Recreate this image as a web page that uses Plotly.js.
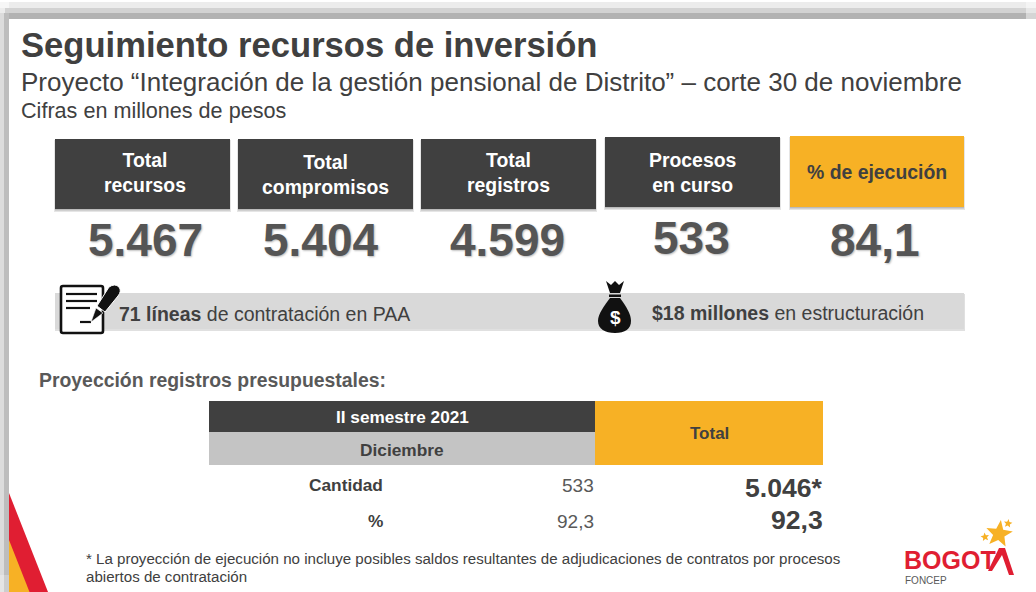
<!DOCTYPE html>
<html><head><meta charset="utf-8">
<script src="https://cdn.plot.ly/plotly-3.0.1.min.js"></script>
<style>html,body{margin:0;padding:0;background:#fff;overflow:hidden}#c{width:1036px;height:592px}</style>
</head><body><div id="c"></div>
<script>
// ---- content ----
const titleText = "Seguimiento recursos de inversión";
const subtitleText = "Proyecto “Integración de la gestión pensional de Distrito” – corte 30 de noviembre";
const unitsText = "Cifras en millones de pesos";
const kpiLabels = ["Total<br>recursos","Total<br>compromisos","Total<br>registros","Procesos<br>en curso","% de ejecución"];
const kpiValues = ["5.467","5.404","4.599","533","84,1"];
const stripTexts = ["<b>71 líneas</b> de contratación en PAA","<b>$18 millones</b> en estructuración"];
const tableHeading = "Proyección registros presupuestales:";
const tableHeaders = ["II semestre 2021","Diciembre","Total"];
const rowLabels = ["Cantidad","%"];
const decemberValues = ["533","92,3"];
const totalValues = ["5.046*","92,3"];
const footnoteLines = ["* La proyección de ejecución no incluye posibles saldos resultantes de adjudicaciones de contratos por procesos","abiertos de contratación"];

// ---- layout geometry (page pixels on a hidden 1036x592 scale) ----
const DARK="#404040", ORANGE="#f7b125", FONT="Liberation Sans, Arial, sans-serif";
const kpiBoxes=[[55,230,139,209],[238,413,139,209],[421,596,139,209],[605,780,137,207],[790,964,136,207]];
const kpiLabelX=[145,325.5,508.5,692.5,877];
const kpiLabelY=[172.5,174.5,172.5,172.5,172];
const kpiValueY=[240,240,240,238,240];
const kpiValueX=[145,321,507,691,875];
const shapes=[];
const rect=(x0,x1,y0,y1,fill,op)=>shapes.push({type:"rect",xref:"x",yref:"y",x0,x1,y0,y1,fillcolor:fill,opacity:op===undefined?1:op,line:{width:0},layer:"below"});
const path=(d,fill,lineColor,lw)=>shapes.push({type:"path",xref:"x",yref:"y",path:d,fillcolor:fill,line:{color:lineColor||fill,width:lw||0},layer:"below"});
const star=(cx,cy,R,r,rot,fill)=>{
  let d="";
  for(let k=0;k<10;k++){
    const a=(rot-90+k*36)*Math.PI/180, q=k%2?r:R;
    d+=(k?" L ":"M ")+(cx+q*Math.cos(a)).toFixed(1)+" "+(cy+q*Math.sin(a)).toFixed(1);
  }
  path(d+" Z",fill);
};

// slide frame shading
rect(0,1036,2,8,"#ececec"); rect(0,1036,8,13,"#d2d2d2"); rect(0,1036,13,19,"#b2b2b2");
rect(1026,1036,2,19,"#ffffff",0.45);
rect(0,4,8,592,"#dcdcdc"); rect(4,9,13,592,"#bdbdbd");
rect(0,9,575,592,"#ffffff",0.25);
rect(0,9,2,8,"#f6f6f6"); rect(0,5,8,13,"#ececec");

// corner wedge
path("M 9 493 L 48 592 L 9 592 Z","#e01e32");
path("M 9 540 L 29.5 592 L 9 592 Z",ORANGE);

// KPI boxes with soft shadow
kpiBoxes.forEach((b,i)=>{
  rect(b[0]-1,b[1]+1,b[2]+1,b[3]+3,"#000000",0.10);
  rect(b[0],b[1],b[2],b[3]+1.5,"#000000",0.18);
  rect(b[0],b[1],b[2],b[3],i===4?ORANGE:DARK);
});

// grey strip
rect(55,965,294,331,"#000000",0.12);
rect(55,964,293,329,"#d9d9d9");

// document icon
path("M 63 286 H 101 Q 103 286 103 288 V 331 Q 103 333 101 333 H 63 Q 61 333 61 331 V 288 Q 61 286 63 286 Z","#ffffff","#111111",2.6);
path("M 66 294 H 97","rgba(0,0,0,0)","#111111",2.2);
path("M 66 301 H 97","rgba(0,0,0,0)","#111111",2.2);
path("M 66 308 H 90","rgba(0,0,0,0)","#111111",2.2);
path("M 80 322 H 91","rgba(0,0,0,0)","#111111",2.2);
// pen
path("M 109 287 Q 115 283 119 287 Q 122 291 118 296 L 105 312 L 97 306 Z","#111111","#ffffff",1);
path("M 96 308 L 103 313 L 91 322 Z","#111111","#ffffff",0.6);

// money bag
path("M 606 281 L 611 285 L 615 281 L 619 285 L 624 281 L 620 293 L 610 293 Z","#111111");
path("M 609 294.5 H 621 V 297 H 609 Z","#111111");
path("M 610 298 H 620 C 626 306 631 314 631 321 C 631 329 625 333 615 333 C 605 333 598 329 598 321 C 598 314 604 306 610 298 Z","#111111");

// table blocks
rect(209,595,401,432,DARK); rect(209,595,432,465,"#c4c4c4"); rect(595,823,401,465,ORANGE);

// logo
star(999,534,14,6,8,ORANGE);
star(1008,523.5,4.5,2,8,ORANGE);
star(985,537,4.5,2,-8,ORANGE);
path("M 999 548 L 1005 548 L 1014 575 L 1009 575 L 1002 555 L 992 571 L 988 571 Z","#e01e32");

// ---- text ----
const ann=[];
const T=(text,x,y,size,color,anchor,bold,extra)=>ann.push(Object.assign({
  xref:"x",yref:"y",x,y,text:bold?"<b>"+text+"</b>":text,showarrow:false,xanchor:anchor||"left",yanchor:"middle",
  align:anchor||"left",borderpad:0,font:{family:FONT,size,color}},extra||{}));

T(titleText,20,45,34.6,DARK,"left",true);
T(subtitleText,20,82,26,DARK);
T(unitsText,20,110,21.6,DARK);

kpiLabels.forEach((t,i)=>{
  T(t,kpiLabelX[i],kpiLabelY[i],19.4,i===4?DARK:"#ffffff","center",true);
  T(kpiValues[i],kpiValueX[i],kpiValueY[i],46,"#555555","center",true,{});
  ann[ann.length-1].font.shadow="1px 1px 2px #bbbbbb";
});

T(stripTexts[0],118,314,19.5,DARK);
T(stripTexts[1],651,313,19.5,DARK);
T("$",615,317,19,"#ffffff","center",true);

T(tableHeading,38,380,19.4,"#595959","left",true);
T(tableHeaders[0],402,417,17.2,"#ffffff","center",true);
T(tableHeaders[1],402,449.5,17.3,DARK,"center",true);
T(tableHeaders[2],709,433.5,17,DARK,"center",true);
rowLabels.forEach((t,i)=>{
  const y=[485,521][i];
  T(t,383.5,y,17.3,DARK,"right",true);
  T(decemberValues[i],595,y,19,"#595959","right");
  T(totalValues[i],823.5,[488,520][i],26.6,DARK,"right",true);
});

T(footnoteLines[0],85,558.5,15.1,DARK);
T(footnoteLines[1],85,576.5,15.1,DARK);

T("BOGOT",903,560,25,"#e01e32","left",true);
T("FONCEP",904,580,10,"#595959");

const hidden={visible:false,fixedrange:true,showgrid:false,zeroline:false};
Plotly.newPlot("c",[],{
  width:1036,height:592,margin:{l:0,r:0,t:0,b:0},
  paper_bgcolor:"#ffffff",plot_bgcolor:"#ffffff",showlegend:false,
  xaxis:Object.assign({range:[0,1036]},hidden),
  yaxis:Object.assign({range:[592,0]},hidden),
  shapes,annotations:ann
},{displayModeBar:false,staticPlot:true});
</script></body></html>
